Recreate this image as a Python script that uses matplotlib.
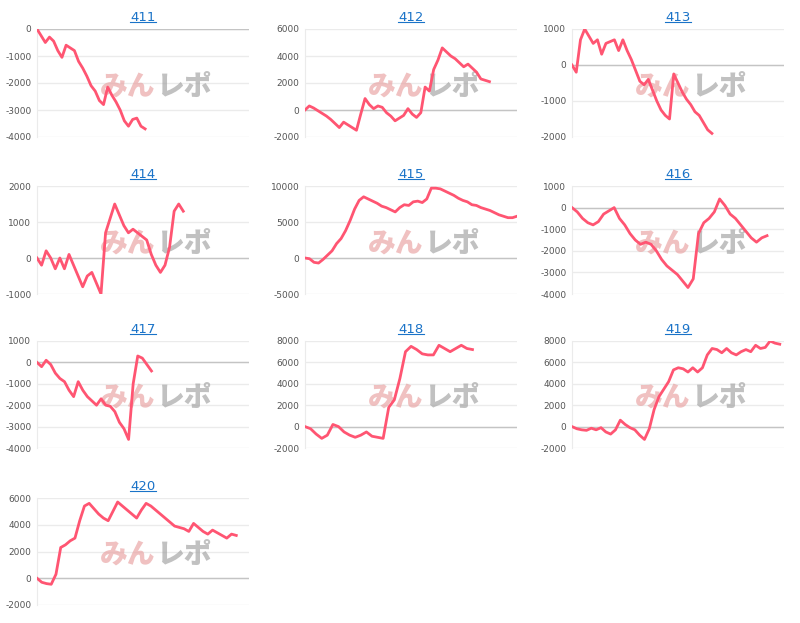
import matplotlib
matplotlib.use("Agg")
import matplotlib.pyplot as plt
import numpy as np

titles = ["411", "412", "413", "414", "415", "416", "417", "418", "419", "420"]
s411 = [0,-250,-500,-300,-450,-800,-1050,-600,-700,-800,-1200,-1450,-1750,-2100,-2300,-2650,-2800,-2150,-2450,-2700,-3000,-3400,-3600,-3350,-3300,-3600,-3700]
s412 = [0,300,150,-50,-250,-450,-700,-1000,-1300,-900,-1100,-1300,-1500,-300,850,400,100,300,200,-200,-450,-800,-600,-400,100,-300,-550,-200,1700,1400,3000,3700,4600,4300,4000,3800,3500,3200,3400,3100,2800,2300,2200,2100]
s413 = [0,-200,700,1000,800,600,700,300,600,650,700,400,700,400,150,-150,-450,-550,-400,-700,-1000,-1250,-1400,-1500,-250,-500,-750,-950,-1100,-1300,-1400,-1600,-1800,-1900]
s414 = [0,-200,200,0,-300,0,-300,100,-200,-500,-800,-500,-400,-700,-1000,700,1100,1500,1200,900,700,800,700,600,500,100,-200,-400,-200,300,1300,1500,1300]
s415 = [0,-100,-600,-700,-200,400,1000,2000,2700,3800,5200,6800,8000,8500,8200,7900,7600,7200,7000,6700,6400,7000,7400,7300,7800,7900,7700,8200,9700,9700,9600,9300,9000,8700,8300,8000,7800,7400,7300,7000,6800,6600,6300,6000,5800,5600,5600,5800]
s416 = [0,-200,-500,-700,-800,-650,-300,-150,0,-500,-800,-1200,-1500,-1700,-1600,-1700,-2000,-2400,-2700,-2900,-3100,-3400,-3700,-3300,-1200,-700,-500,-200,400,100,-300,-500,-800,-1100,-1400,-1600,-1400,-1300]
s417 = [0,-200,100,-100,-500,-750,-900,-1300,-1600,-900,-1300,-1600,-1800,-2000,-1700,-2000,-2050,-2300,-2800,-3100,-3600,-1000,300,200,-100,-400]
s418 = [0,-200,-700,-1100,-800,200,0,-500,-800,-1000,-800,-500,-900,-1000,-1100,1800,2500,4500,7000,7500,7200,6800,6700,6700,7600,7300,7000,7300,7600,7300,7200]
s419 = [0,-200,-300,-350,-150,-300,-100,-500,-700,-300,600,200,-100,-300,-800,-1200,-200,1600,2800,3500,4200,5300,5500,5400,5100,5500,5100,5500,6700,7300,7200,6900,7300,6900,6700,7000,7200,7000,7600,7300,7400,8000,7800,7700]
s420 = [0,-300,-400,-450,300,2300,2500,2800,3000,4300,5400,5600,5200,4800,4500,4300,5000,5700,5400,5100,4800,4500,5100,5600,5400,5100,4800,4500,4200,3900,3800,3700,3500,4100,3800,3500,3300,3600,3400,3200,3000,3300,3200]
series = [s411, s412, s413, s414, s415, s416, s417, s418, s419, s420]
yticks = [
    [-4000,-3000,-2000,-1000,0], [-2000,0,2000,4000,6000], [-2000,-1000,0,1000],
    [-1000,0,1000,2000], [-5000,0,5000,10000], [-4000,-3000,-2000,-1000,0,1000],
    [-4000,-3000,-2000,-1000,0,1000], [-2000,0,2000,4000,6000,8000], [-2000,0,2000,4000,6000,8000],
    [-2000,0,2000,4000,6000],
]
end_frac = [0.51, 0.87, 0.66, 0.69, 1.0, 0.92, 0.54, 0.79, 0.98, 0.94]

W, H = 800, 623
fig = plt.figure(figsize=(W/100, H/100), dpi=100)
col_x = [37, 305, 572]
row_y = [(29, 137), (186, 294), (341, 448), (498, 605)]
pw = 212
wm = ["Noto Sans CJK JP", "DejaVu Sans"]
for i, (t, s) in enumerate(zip(titles, series)):
    r, c = divmod(i, 3)
    top, bot = row_y[r]
    ax = fig.add_axes([col_x[c]/W, 1-bot/H, pw/W, (bot-top)/H])
    x = np.arange(len(s))
    ax.plot(x, s, color="#ff5572", lw=2.0, solid_joinstyle="round", zorder=3)
    ax.set_xlim(0, (len(s)-1)/end_frac[i])
    yt = yticks[i]
    ax.set_ylim(yt[0], yt[-1])
    ax.set_yticks(yt)
    ax.set_yticklabels([str(v) for v in yt])
    ax.set_xticks([])
    ax.grid(axis="y", color="#ebebeb", lw=1)
    ax.axhline(0, color="#c4c4c4", lw=1, zorder=2)
    for sp in ["top", "right", "bottom"]:
        ax.spines[sp].set_visible(False)
    ax.spines["left"].set_color("#ebebeb")
    ax.tick_params(axis="y", length=0, labelsize=6.5, labelcolor="#555555", pad=4)
    ax.set_axisbelow(True)
    ax.set_title(t, fontsize=9.5, color="#1a73c8", pad=6)
    ax.text(0.56, 0.47, "みん", transform=ax.transAxes, fontsize=20, fontweight="black",
            style="italic", color="#e8a0a0", alpha=0.65, ha="right", va="center",
            family=wm, zorder=1)
    ax.text(0.56, 0.47, "レポ", transform=ax.transAxes, fontsize=20, fontweight="black",
            style="italic", color="#a0a0a0", alpha=0.65, ha="left", va="center",
            family=wm, zorder=1)
fig.canvas.draw()
inv = fig.transFigure.inverted()
for ax in fig.axes:
    bb = ax.title.get_window_extent()
    (x0, y0), (x1, y1) = inv.transform([(bb.x0, bb.y0), (bb.x1, bb.y1)])
    fig.add_artist(plt.Line2D([x0, x1], [y0+0.002, y0+0.002], color="#1a73c8", lw=0.8))
fig.savefig("out.png", dpi=100)
